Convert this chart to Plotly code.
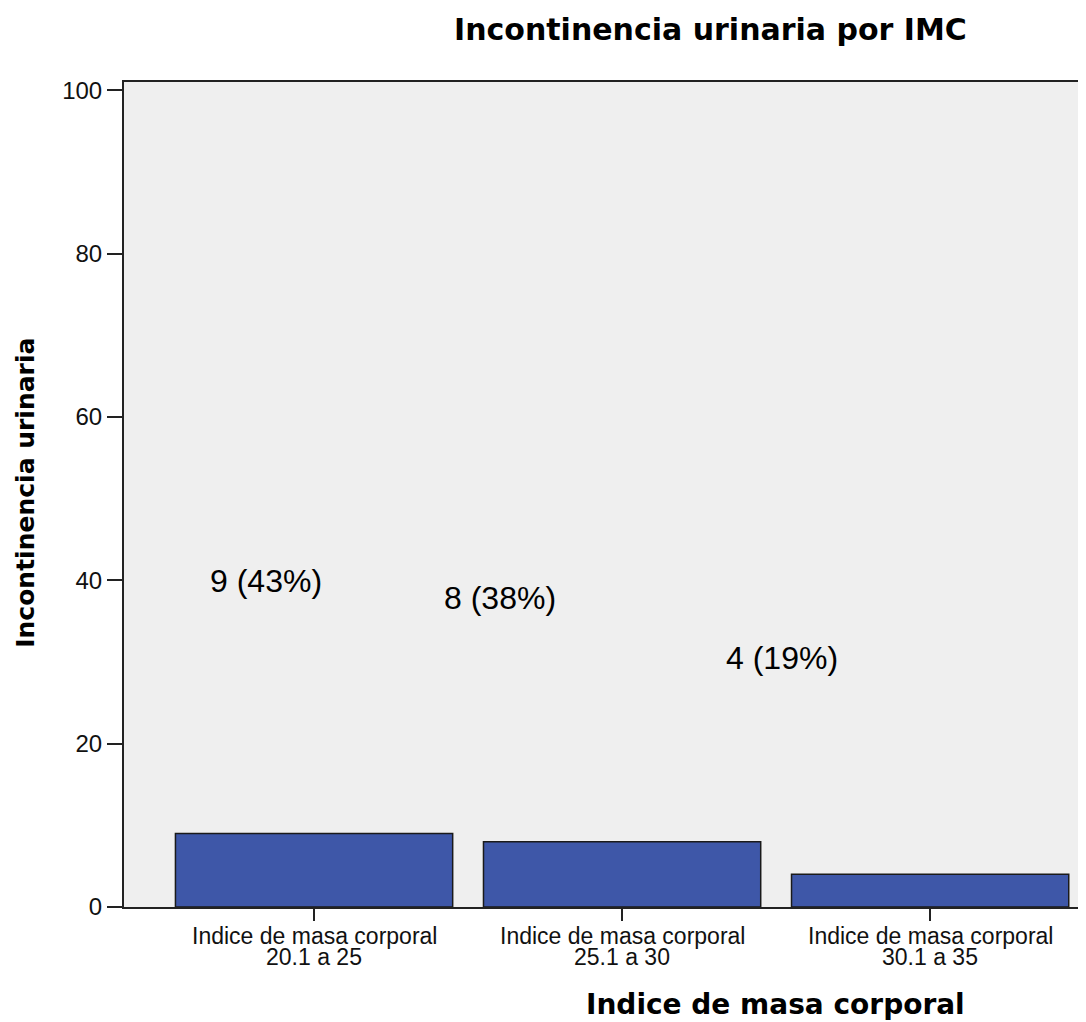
import plotly.graph_objects as go

# ---- data ----
categories = ["Indice de masa corporal 20.1 a 25",
              "Indice de masa corporal 25.1 a 30",
              "Indice de masa corporal 30.1 a 35"]
cat_line1 = ["Indice de masa corporal", "Indice de masa corporal", "Indice de masa corporal"]
cat_line2 = ["20.1 a 25", "25.1 a 30", "30.1 a 35"]
counts = [9, 8, 4]
percents = [43, 38, 19]
y_ticks = [0, 20, 40, 60, 80, 100]

title_text = "Incontinencia urinaria por IMC"
x_title = "Indice de masa corporal"
y_title = "Incontinencia urinaria"

# label placement (SPSS-style floating labels), in axis units
label_dx = [-0.156, -0.396, -0.481]
label_y = [39.9, 37.8, 30.5]

x_idx = list(range(len(categories)))

fig = go.Figure()
fig.add_trace(go.Bar(
    x=x_idx, y=counts, width=0.9,
    marker=dict(color="#3e57a8", line=dict(color="#1a1a1a", width=1.5)),
    hoverinfo="skip", showlegend=False,
))

annotations = []
for i, (c, p) in enumerate(zip(counts, percents)):
    annotations.append(dict(
        x=i + label_dx[i], y=label_y[i], xref="x", yref="y",
        text=f"{c} ({p}%)", showarrow=False,
        font=dict(family="Liberation Sans, Arial", size=32, color="#000"),
        xanchor="center", yanchor="middle"))

for i in x_idx:
    annotations.append(dict(
        x=i, y=-0.0352, xref="x", yref="paper", text=cat_line1[i], showarrow=False,
        font=dict(family="Liberation Sans, Arial", size=23, color="#111"),
        xanchor="center", yanchor="middle"))
    annotations.append(dict(
        x=i, y=-0.0606, xref="x", yref="paper", text=cat_line2[i], showarrow=False,
        font=dict(family="Liberation Sans, Arial", size=23, color="#111"),
        xanchor="center", yanchor="middle"))

annotations.append(dict(
    x=0.610, y=1.0636, xref="paper", yref="paper", text=title_text, showarrow=False,
    font=dict(family="DejaVu Sans", size=30, color="#000", weight="bold"),
    xanchor="center", yanchor="middle"))
annotations.append(dict(
    x=0.677, y=-0.1176, xref="paper", yref="paper", text=x_title, showarrow=False,
    font=dict(family="DejaVu Sans", size=28, color="#000", weight="bold"),
    xanchor="center", yanchor="middle"))
annotations.append(dict(
    x=-0.102, y=0.502, xref="paper", yref="paper", text=y_title, showarrow=False,
    textangle=-90,
    font=dict(family="DejaVu Sans", size=25, color="#000", weight="bold"),
    xanchor="center", yanchor="middle"))

fig.update_layout(
    width=1078, height=1014,
    margin=dict(l=116, r=0, t=74, b=115),
    paper_bgcolor="white", plot_bgcolor="#efefef",
    annotations=annotations,
    bargap=0.1,
    xaxis=dict(
        range=[-0.617, 2.506], tickmode="array", tickvals=x_idx,
        showticklabels=False, ticks="outside", ticklen=12, tickwidth=2,
        tickcolor="#222", showline=True, linecolor="#222", linewidth=2,
        mirror=True, showgrid=False, zeroline=False, fixedrange=True,
    ),
    yaxis=dict(
        range=[0, 101], tickmode="array", tickvals=y_ticks,
        ticktext=[str(v) for v in y_ticks],
        ticks="outside", ticklen=15, tickwidth=2, tickcolor="#222",
        showline=True, linecolor="#222", linewidth=2, mirror=False,
        showgrid=False, zeroline=False,
        tickfont=dict(family="Liberation Sans, Arial", size=24, color="#111"),
    ),
)

fig.write_html("out.html")
